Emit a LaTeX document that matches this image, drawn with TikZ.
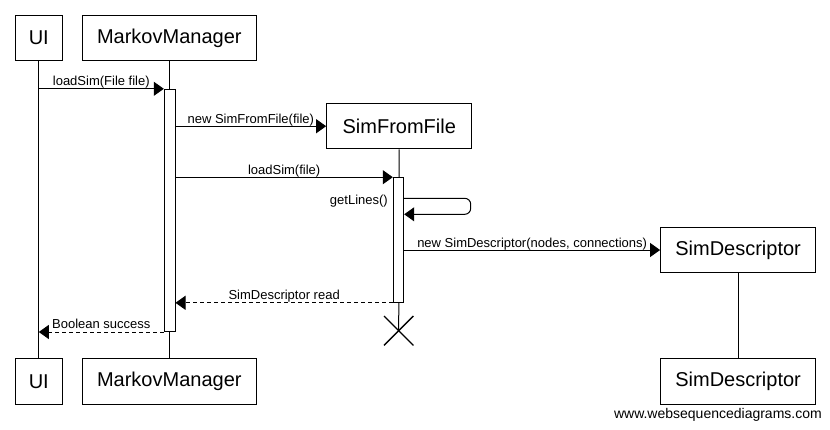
\documentclass[tikz,border=0pt]{standalone}
\usepackage{fontspec}
\setmainfont{Liberation Sans}
\usetikzlibrary{arrows.meta}
\begin{document}
\begin{tikzpicture}[x=1pt,y=-1pt,
  actor/.style={draw, line width=1pt, fill=white, inner sep=0pt,
    font=\fontsize{20}{24}\selectfont, minimum height=45.5pt},
  actbar/.style={draw, line width=1pt, fill=white, inner sep=0pt},
  life/.style={line width=1pt},
  msg/.style={line width=1pt, -{Triangle[length=10pt,width=14pt]}},
  ret/.style={msg, dash pattern=on 4pt off 3pt},
  lbl/.style={font=\fontsize{13}{15}\selectfont, inner sep=0pt, anchor=base},
  crossline/.style={line width=1.3pt}]
\useasboundingbox (0,0) rectangle (830,429);

% actors (top)
\node[actor, minimum width=47pt]  (uiT) at (38.8,38)  {UI};
\node[actor, minimum width=174pt] (mmT) at (169.3,38) {MarkovManager};
\node[actor, minimum width=145.3pt] (sff) at (399.3,126.2) {SimFromFile};
\node[actor, minimum width=155pt] (sd) at (738.1,250) {SimDescriptor};
% actors (bottom)
\node[actor, minimum width=47pt]  (uiB) at (38.8,381.7)  {UI};
\node[actor, minimum width=174pt] (mmB) at (169.3,381.7) {MarkovManager};
\node[actor, minimum width=155pt] (sdB) at (738.1,381.7) {SimDescriptor};

% destroy point
\coordinate (sffx) at (398.7,330.7);

% lifelines
\draw[life] (uiT) -- (uiB);
\draw[life] (mmT) -- (mmB);
\draw[life] (sff) -- (sffx);
\draw[life] (sd) -- (sdB);

% activations
\node[actbar, minimum width=10.7pt, minimum height=242.2pt] (mmact) at (169.65,210.4) {};
\node[actbar, minimum width=10.4pt, minimum height=124.6pt] (sffact) at (398.5,240) {};

% messages
\draw[msg] (uiT |- mmact.north) -- (mmact.north west)
  node[lbl, midway, yshift=3pt] {loadSim(File file)};
\draw[msg] (mmact.east |- sff.west) -- (sff.west)
  node[lbl, midway, yshift=3pt] {new SimFromFile(file)};
\draw[msg] (mmact.east |- sffact.north) -- (sffact.north west)
  node[lbl, midway, yshift=3pt] {loadSim(file)};

% self call
\coordinate (gl1) at (470.7,198.3);
\coordinate (gl2) at (470.7,214.3);
\draw[msg, rounded corners=6pt] (sffact.east |- gl1) -- (gl1) -- (gl2) -- (sffact.east |- gl2);
\node[lbl, anchor=base east] (gllbl) at (388,204) {getLines()};

\draw[msg] (sffact.east |- sd.west) -- (sd.west)
  node[lbl, midway, yshift=3pt] {new SimDescriptor(nodes, connections)};

% returns
\draw[ret] (sffact.south west) -- (mmact.east |- sffact.south)
  node[lbl, midway, yshift=3.5pt] {SimDescriptor read};
\draw[ret] (mmact.south west) -- (uiT |- mmact.south)
  node[lbl, midway, yshift=3.5pt] {Boolean success};

% destroy cross
\draw[crossline] ([shift={(-14.7,-14.7)}]sffx) -- ([shift={(14.7,14.7)}]sffx);
\draw[crossline] ([shift={(-14.7,14.7)}]sffx) -- ([shift={(14.7,-14.7)}]sffx);

% watermark
\node[font=\fontsize{14}{16}\selectfont, anchor=base east, inner sep=0pt] (wm) at (822,418) {www.websequencediagrams.com};
\end{tikzpicture}
\end{document}
